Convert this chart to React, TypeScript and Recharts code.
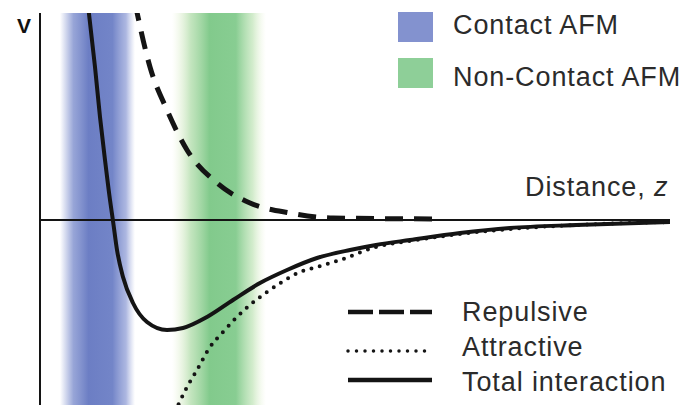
import { ComposedChart, Line, XAxis, YAxis, ReferenceArea, ReferenceLine } from 'recharts';

// distance z (plot units) and potential V
const totalZ = [0.48, 0.55, 0.6, 0.65, 0.7, 0.73, 0.77, 0.83, 0.93, 1.07, 1.27, 1.43, 1.67, 1.93, 2.2, 2.47, 2.77, 3.1, 3.36, 3.7, 4.2, 4.7, 5.36, 6.3];
const totalV = [4.3, 3.06, 2.06, 1.2, 0.4, -0.02, -0.6, -1.14, -1.66, -2.04, -2.2, -2.16, -1.94, -1.6, -1.26, -1.0, -0.76, -0.6, -0.5, -0.4, -0.26, -0.16, -0.1, -0.04];

const repulsiveZ = [0.95, 1.1, 1.27, 1.47, 1.77, 2.1, 2.5, 2.93, 4.0];
const repulsiveV = [4.34, 3.06, 2.2, 1.4, 0.74, 0.34, 0.14, 0.04, 0.02];

const attractiveZ = [1.35, 1.47, 1.57, 1.7, 1.83, 1.97, 2.1, 2.27, 2.42, 2.6, 2.77, 3.0, 3.36, 3.7, 4.2, 4.7, 5.36, 6.3];
const attractiveV = [-3.84, -3.34, -3.0, -2.54, -2.24, -1.94, -1.7, -1.44, -1.24, -1.04, -0.94, -0.8, -0.54, -0.42, -0.28, -0.18, -0.1, -0.04];

// imaging regimes along z
const bandNames = ['Contact AFM', 'Non-Contact AFM'];
const bandStart = [0.2, 1.32];
const bandEnd = [0.95, 2.26];

const lineNames = ['Repulsive', 'Attractive', 'Total interaction'];

const toRows = (zs: number[], vs: number[]) => zs.map((z, i) => ({ z, v: vs[i] }));

const W = 686;
const H = 405;
const INK = '#141414';
const TEXT = '#2b2b2b';
const FONT = '"Liberation Sans", Arial, sans-serif';

const textStyle = { fontFamily: FONT, fontSize: 27, letterSpacing: 0.9, fill: TEXT };

function Overlay() {
  const swatch = ['#8392cf', '#8ecf98'];
  const dash = ['25 6', '0 8.5', undefined];
  const sampleY = [312, 351, 380];
  const labelY = [321, 356, 391];
  return (
    <g>
      <text x={17} y={33} style={{ fontFamily: FONT, fontSize: 21, fontWeight: 700, fill: '#111' }}>V</text>
      <text x={525} y={196} style={textStyle}>
        Distance, <tspan fontStyle="italic">z</tspan>
      </text>
      {bandNames.map((name, i) => (
        <g key={name}>
          <rect x={398} y={12 + i * 46} width={35} height={30} fill={swatch[i]} />
          <text x={453} y={34 + i * 52} style={textStyle}>{name}</text>
        </g>
      ))}
      {lineNames.map((name, i) => (
        <g key={name}>
          <line
            x1={348}
            x2={432}
            y1={sampleY[i]}
            y2={sampleY[i]}
            stroke={INK}
            strokeWidth={i === 1 ? 3.5 : 4.5}
            strokeDasharray={dash[i]}
            strokeLinecap={i === 1 ? 'round' : 'butt'}
          />
          <text x={462} y={labelY[i]} style={textStyle}>{name}</text>
        </g>
      ))}
    </g>
  );
}

export default function App() {
  return (
    <div style={{ position: 'absolute', left: 0, top: 0, width: W, height: H, background: '#fff' }}>
      <ComposedChart width={W} height={H} margin={{ top: 13, right: 16, bottom: 0, left: 40 }}>
        <defs>
          <linearGradient id="bandBlue" x1="0" y1="0" x2="1" y2="0">
            <stop offset="0%" stopColor="#8595d0" stopOpacity={0} />
            <stop offset="18%" stopColor="#8595d0" stopOpacity={0.85} />
            <stop offset="38%" stopColor="#6c7ec4" stopOpacity={1} />
            <stop offset="70%" stopColor="#7385c8" stopOpacity={1} />
            <stop offset="88%" stopColor="#98a5d9" stopOpacity={0.8} />
            <stop offset="100%" stopColor="#b0bae2" stopOpacity={0} />
          </linearGradient>
          <linearGradient id="bandGreen" x1="0" y1="0" x2="1" y2="0">
            <stop offset="0%" stopColor="#e4efc8" stopOpacity={0} />
            <stop offset="20%" stopColor="#b4deae" stopOpacity={0.8} />
            <stop offset="40%" stopColor="#82ca8c" stopOpacity={1} />
            <stop offset="68%" stopColor="#88cd92" stopOpacity={1} />
            <stop offset="86%" stopColor="#c4e6bc" stopOpacity={0.75} />
            <stop offset="100%" stopColor="#eaf3d6" stopOpacity={0} />
          </linearGradient>
        </defs>
        <XAxis type="number" dataKey="z" domain={[0, 6.3]} hide allowDataOverflow />
        <YAxis type="number" dataKey="v" domain={[-3.7, 4.14]} hide allowDataOverflow />
        {bandNames.map((name, i) => (
          <ReferenceArea
            key={name}
            x1={bandStart[i]}
            x2={bandEnd[i]}
            fill={`url(#${i === 0 ? 'bandBlue' : 'bandGreen'})`}
            fillOpacity={1}
            stroke="none"
            ifOverflow="hidden"
          />
        ))}
        <ReferenceLine y={0} stroke={INK} strokeWidth={2} />
        <ReferenceLine x={0} stroke={INK} strokeWidth={2} />
        <Line
          data={toRows(repulsiveZ, repulsiveV)}
          dataKey="v"
          name={lineNames[0]}
          type="monotone"
          stroke={INK}
          strokeWidth={5}
          strokeDasharray="18 11"
          dot={false}
          isAnimationActive={false}
        />
        <Line
          data={toRows(attractiveZ, attractiveV)}
          dataKey="v"
          name={lineNames[1]}
          type="monotone"
          stroke={INK}
          strokeWidth={4}
          strokeDasharray="0 8.5"
          strokeLinecap="round"
          dot={false}
          isAnimationActive={false}
        />
        <Line
          data={toRows(totalZ, totalV)}
          dataKey="v"
          name={lineNames[2]}
          type="monotone"
          stroke={INK}
          strokeWidth={4}
          dot={false}
          isAnimationActive={false}
        />
        <Overlay />
      </ComposedChart>
    </div>
  );
}
